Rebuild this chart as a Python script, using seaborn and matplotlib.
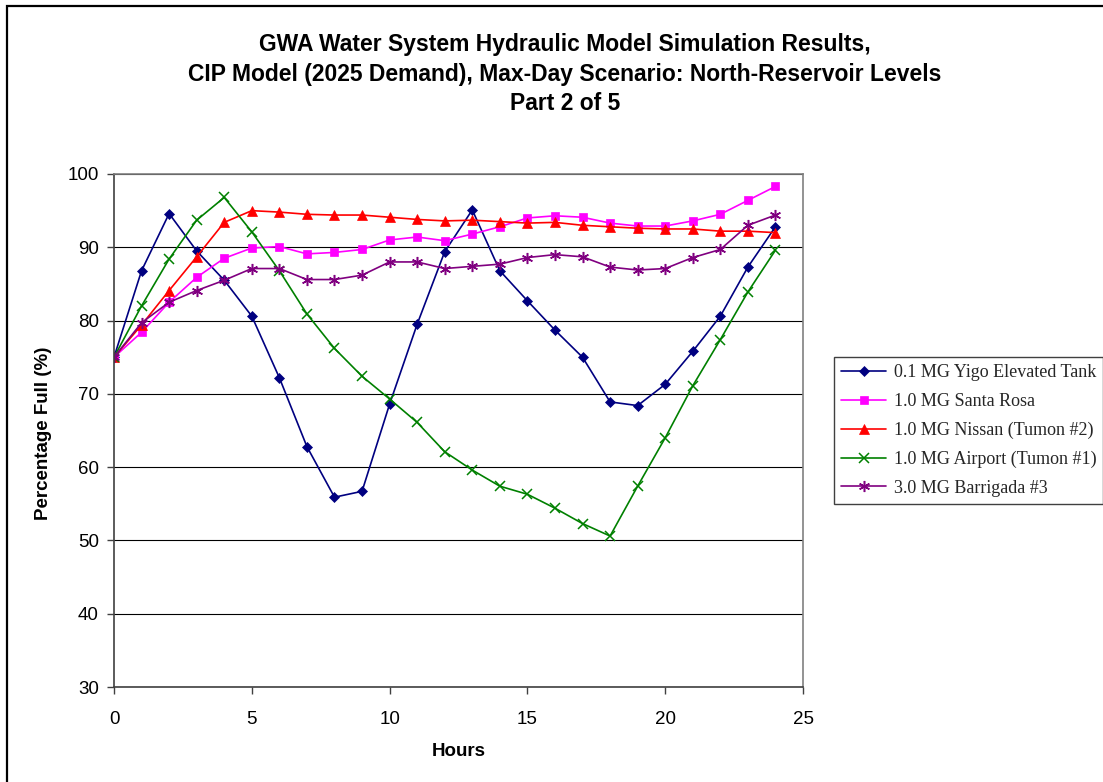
import matplotlib
matplotlib.use("Agg")
import matplotlib.pyplot as plt
import seaborn as sns
import pandas as pd
from matplotlib.patches import Rectangle

hours = list(range(25))
yigo = [75, 86.8, 94.6, 89.5, 85.5, 80.6, 72.2, 62.8, 55.9, 56.7, 68.6, 79.5, 89.4, 95.1,
        86.8, 82.7, 78.7, 75.0, 68.9, 68.4, 71.3, 75.8, 80.6, 87.3, 92.8]
santa_rosa = [75, 78.4, 82.5, 85.9, 88.5, 89.9, 90.1, 89.1, 89.3, 89.7, 91.0, 91.4, 90.9, 91.8,
              92.8, 94.0, 94.3, 94.1, 93.3, 92.9, 92.9, 93.6, 94.5, 96.4, 98.3]
nissan = [75, 79.4, 84.1, 88.7, 93.4, 95.0, 94.8, 94.5, 94.4, 94.4, 94.1, 93.8, 93.6, 93.7,
          93.5, 93.3, 93.4, 93.0, 92.8, 92.6, 92.5, 92.5, 92.2, 92.2, 92.0]
airport = [75, 82.0, 88.4, 93.7, 96.8, 92.1, 86.8, 80.9, 76.2, 72.4, 69.3, 66.1, 62.1, 59.6,
           57.4, 56.3, 54.4, 52.3, 50.6, 57.4, 64.0, 71.1, 77.4, 83.9, 89.6]
barrigada = [75, 79.7, 82.5, 84.1, 85.5, 87.1, 87.1, 85.6, 85.6, 86.2, 88.0, 88.0, 87.1, 87.4,
             87.7, 88.6, 89.0, 88.7, 87.3, 86.9, 87.1, 88.6, 89.7, 93.0, 94.4]

series_names = ["0.1 MG Yigo Elevated Tank", "1.0 MG Santa Rosa", "1.0 MG Nissan (Tumon #2)",
                "1.0 MG Airport (Tumon #1)", "3.0 MG Barrigada #3"]
series_values = [yigo, santa_rosa, nissan, airport, barrigada]
x_ticks = [0, 5, 10, 15, 20, 25]
y_ticks = [30, 40, 50, 60, 70, 80, 90, 100]

title_lines = ["GWA Water System Hydraulic Model Simulation Results,",
               "CIP Model (2025 Demand), Max-Day Scenario: North-Reservoir Levels",
               "Part 2 of 5"]

styles = [
    dict(color="#000080", marker="D", markersize=5.5, mew=0.5),
    dict(color="#FF00FF", marker="s", markersize=5.5, mew=0.5),
    dict(color="#FF0000", marker="^", markersize=7, mew=0.5),
    dict(color="#008000", marker="x", markersize=7, mew=1.1),
    dict(color="#800080", marker=(6, 2, 0), markersize=8, mew=1.1),
]

sns.set_theme(style="white")
plt.rcParams["font.family"] = ["Liberation Sans", "DejaVu Sans"]

fig = plt.figure(figsize=(11.03, 7.82), dpi=100)
ax = fig.add_axes([114 / 1103, 1 - 687 / 782, (803 - 114) / 1103, (687 - 174) / 782])

handles = []
for name, vals, st in zip(series_names, series_values, styles):
    df = pd.DataFrame({"Hours": hours, "val": vals})
    sns.lineplot(data=df, x="Hours", y="val", ax=ax, color=st["color"], marker=st["marker"],
                 markersize=st["markersize"], markeredgewidth=st["mew"],
                 markeredgecolor=st["color"], markerfacecolor=st["color"],
                 linewidth=1.2, label=name, legend=False)
    handles.append(ax.lines[-1])

ax.set_xlim(0, 25)
ax.set_ylim(30, 100)
ax.set_xticks(x_ticks)
ax.set_yticks(y_ticks)
ax.yaxis.grid(True, color="black", linewidth=0.8)
ax.xaxis.grid(False)
ax.set_axisbelow(True)
for s in ["left", "bottom"]:
    ax.spines[s].set_color("#404040")
    ax.spines[s].set_linewidth(1.2)
for s in ["top", "right"]:
    ax.spines[s].set_color("#808080")
    ax.spines[s].set_linewidth(1.2)
ax.tick_params(axis="both", direction="out", length=5, width=1, color="#404040",
               labelsize=13.5, labelcolor="black")
ax.tick_params(axis="x", pad=12, bottom=True)
ax.tick_params(axis="y", pad=6, left=True)

ax.set_xlabel("Hours", fontsize=13.5, fontweight="bold", color="black")
ax.set_ylabel("Percentage Full (%)", fontsize=13.5, fontweight="bold", color="black")
ax.xaxis.set_label_coords(0.5, -(743 - 687) / 513)
ax.yaxis.set_label_coords((52 - 114) / 689, 0.495)

for i, line in enumerate(title_lines):
    fig.text(565 / 1103, 1 - (45 + 29.5 * i) / 782, line, ha="center", va="center",
             fontsize=16.5, fontweight="bold", color="black")

leg = fig.legend(handles=handles, labels=series_names, loc="upper left",
                 bbox_to_anchor=(834 / 1103, 1 - 357 / 782), bbox_transform=fig.transFigure,
                 frameon=True, fancybox=False, edgecolor="#404040", framealpha=1,
                 prop={"family": "Liberation Serif", "size": 13},
                 handlelength=2.5, handletextpad=0.4, labelspacing=0.65,
                 borderpad=0.4, borderaxespad=0)
leg.get_frame().set_linewidth(1.0)

fig.patches.append(Rectangle((7 / 1103, -0.1), 1.2, 1.1 - 6 / 782, transform=fig.transFigure,
                             fill=False, edgecolor="black", linewidth=1.6))

fig.savefig("out.png", dpi=100)
